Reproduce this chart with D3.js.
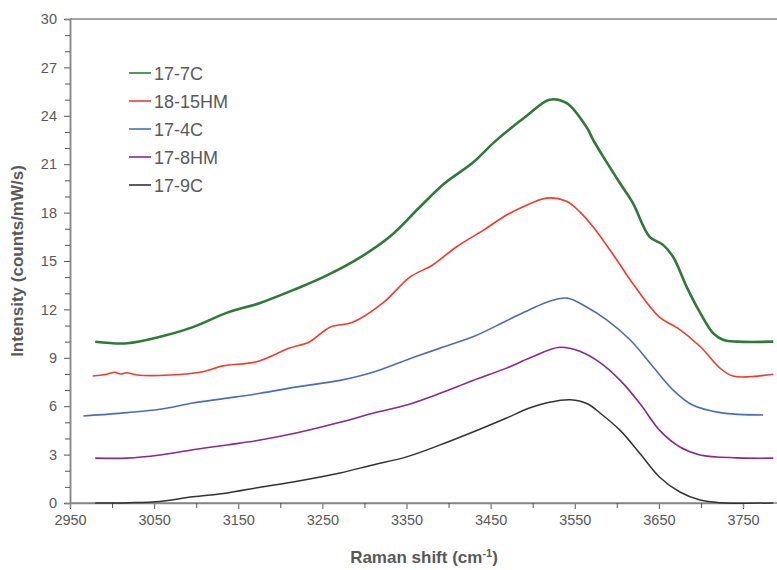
<!DOCTYPE html>
<html>
<head>
<meta charset="utf-8">
<script src="https://cdn.jsdelivr.net/npm/d3@7"></script>
<style>
  body { margin: 0; background: #fff; }
  svg { font-family: "Liberation Sans", Arial, sans-serif; }
</style>
</head>
<body>
<svg id="chart" width="777" height="570"></svg>
<script>
// Raman spectra, [shift, intensity]
const s17_7C = [[2980,10.0],[3018,9.9],[3057,10.3],[3096,10.9],[3137,11.8],[3176,12.4],[3220,13.3],[3251,14.0],[3291,15.1],[3330,16.5],[3365,18.3],[3395,19.8],[3429,21.1],[3455,22.4],[3493,24.0],[3520,25.0],[3540,24.8],[3564,23.3],[3572,22.5],[3584,21.45],[3604,19.8],[3619,18.6],[3639,16.5],[3655,16.0],[3667,15.25],[3683,13.4],[3699,11.8],[3715,10.5],[3727,10.1],[3743,10.0],[3786,10.0]];
const s18_15HM = [[2977,7.87],[2995,8.0],[3003,8.1],[3010,8.0],[3017,8.07],[3030,7.93],[3069,7.93],[3108,8.14],[3132,8.5],[3172,8.76],[3211,9.6],[3235,10.0],[3259,10.9],[3286,11.2],[3322,12.4],[3354,14.0],[3381,14.75],[3410,15.9],[3441,16.9],[3469,17.85],[3490,18.4],[3517,18.9],[3540,18.7],[3556,18.05],[3572,17.1],[3600,15.06],[3619,13.6],[3651,11.5],[3672,10.85],[3699,9.7],[3723,8.35],[3738,7.87],[3786,7.98]];
const s17_4C = [[2966,5.39],[3018,5.6],[3057,5.81],[3096,6.2],[3137,6.5],[3176,6.8],[3220,7.2],[3271,7.6],[3310,8.1],[3350,8.87],[3390,9.6],[3429,10.3],[3469,11.3],[3497,12.0],[3517,12.45],[3541,12.7],[3564,12.15],[3588,11.35],[3616,10.1],[3643,8.45],[3667,7.0],[3690,6.07],[3723,5.6],[3774,5.45]];
const s17_8HM = [[2980,2.78],[3018,2.78],[3057,2.98],[3096,3.3],[3137,3.6],[3176,3.9],[3220,4.35],[3271,5.0],[3310,5.56],[3350,6.07],[3390,6.8],[3429,7.6],[3469,8.36],[3497,9.0],[3532,9.65],[3556,9.4],[3580,8.7],[3604,7.6],[3627,6.2],[3651,4.5],[3675,3.47],[3699,2.98],[3743,2.8],[3786,2.78]];
const s17_9C = [[2980,0],[3020,0.02],[3057,0.1],[3096,0.38],[3137,0.62],[3176,0.98],[3220,1.35],[3271,1.86],[3310,2.36],[3350,2.86],[3390,3.6],[3429,4.4],[3469,5.27],[3497,5.9],[3520,6.25],[3545,6.4],[3565,6.15],[3580,5.58],[3604,4.5],[3627,3.1],[3651,1.6],[3675,0.68],[3699,0.18],[3723,0.02],[3786,0]];

const names = ["17-7C", "18-15HM", "17-4C", "17-8HM", "17-9C"];
const colors = ["#2f7a38", "#f23a2f", "#4d6db3", "#862a8c", "#333333"];
const widths = [2.6, 1.6, 1.6, 1.6, 1.5];
const spectra = [s17_7C, s18_15HM, s17_4C, s17_8HM, s17_9C];

const xTicks = [2950, 3050, 3150, 3250, 3350, 3450, 3550, 3650, 3750];
const yTicks = [0, 3, 6, 9, 12, 15, 18, 21, 24, 27, 30];

const svg = d3.select("#chart");
const mLeft = 70, mTop = 19, mBottom = 503;

const x = d3.scaleLinear().domain([2950, 3750]).range([mLeft, 743]);
const y = d3.scaleLinear().domain([0, 30]).range([mBottom, mTop]);
const xMax = 3800;

const axisCol = "#868686";
const textCol = "#595959";

// top border
svg.append("line")
  .attr("x1", mLeft).attr("x2", x(xMax))
  .attr("y1", mTop).attr("y2", mTop)
  .attr("stroke", axisCol).attr("stroke-width", 1.3);

// y axis
const yAxis = svg.append("g").attr("transform", `translate(${mLeft},0)`)
  .call(d3.axisLeft(y).tickValues(yTicks).tickSize(6).tickPadding(7));
yAxis.append("g").call(d3.axisLeft(y).tickValues(d3.range(0, 31, 1).filter(v => v % 3)).tickSize(5).tickFormat(""));

// x axis
const xAxis = svg.append("g").attr("transform", `translate(0,${mBottom})`)
  .call(d3.axisBottom(x).tickValues(xTicks).tickSize(6).tickPadding(6).tickFormat(d3.format("d")));
xAxis.append("g").call(d3.axisBottom(x).tickValues(d3.range(3000, 3800, 100)).tickSize(5).tickFormat(""));
xAxis.select(".domain").attr("d", `M${mLeft},0H${x(xMax)}`);

svg.selectAll(".domain").attr("stroke", axisCol).attr("stroke-width", 1.5);
svg.selectAll(".tick line").attr("stroke", "#555").attr("stroke-width", 1);
svg.selectAll(".tick text").attr("fill", textCol).attr("font-size", 14.5).attr("font-family", "Liberation Sans, Arial, sans-serif");

// spectra, back to front like the source
const line = d3.line().x(d => x(d[0])).y(d => y(d[1])).curve(d3.curveCatmullRom.alpha(0.5));
spectra.forEach((s, i) => {
  svg.append("path")
    .attr("d", line(s))
    .attr("fill", "none")
    .attr("stroke", colors[i])
    .attr("stroke-width", widths[i])
    .attr("stroke-linejoin", "round");
});

// legend
const legend = svg.append("g").attr("transform", "translate(129,73)");
names.forEach((n, i) => {
  const g = legend.append("g").attr("transform", `translate(0,${i * 28})`);
  g.append("line").attr("x1", 0).attr("x2", 22).attr("y1", 0).attr("y2", 0)
    .attr("stroke", colors[i]).attr("stroke-width", 1.6);
  g.append("text").attr("x", 25).attr("y", 6.5)
    .attr("font-size", 18).attr("fill", textCol).text(n);
});

// axis titles
svg.append("text")
  .attr("transform", "translate(23,261) rotate(-90)")
  .attr("text-anchor", "middle")
  .attr("font-size", 17).attr("font-weight", "bold").attr("fill", textCol)
  .text("Intensity (counts/mW/s)");

const xt = svg.append("text")
  .attr("x", 424).attr("y", 563)
  .attr("text-anchor", "middle")
  .attr("font-size", 17).attr("font-weight", "bold").attr("fill", textCol);
xt.append("tspan").text("Raman shift (cm");
xt.append("tspan").attr("font-size", 11).attr("dy", -6).text("-1");
xt.append("tspan").attr("dy", 6).text(")");
</script>
</body>
</html>
